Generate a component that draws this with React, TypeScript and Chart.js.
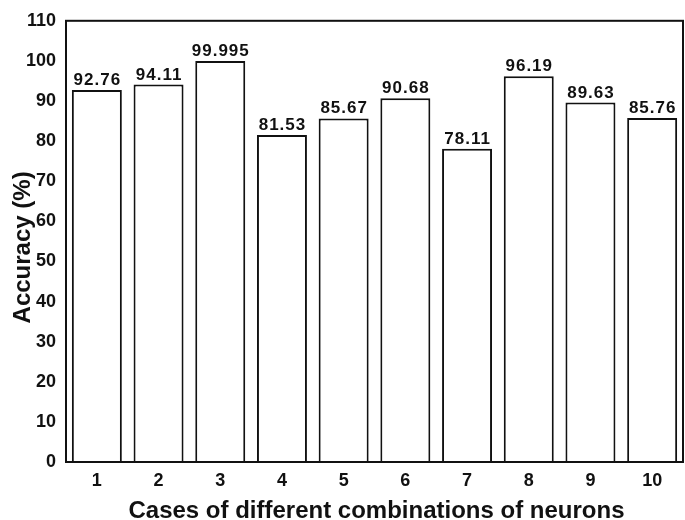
import React, { useEffect, useRef } from "react";
import { Chart, registerables } from "chart.js";

Chart.register(...registerables);

const categories = ["1", "2", "3", "4", "5", "6", "7", "8", "9", "10"];
const accuracy = [92.76, 94.11, 99.995, 81.53, 85.67, 90.68, 78.11, 96.19, 89.63, 85.76];
const valueLabels = ["92.76", "94.11", "99.995", "81.53", "85.67", "90.68", "78.11", "96.19", "89.63", "85.76"];
const xTitle = "Cases of different combinations of neurons";
const yTitle = "Accuracy (%)";

const FONT = '"Liberation Sans", Arial, Helvetica, sans-serif';

const decorPlugin = {
  id: "decor",
  afterDatasetsDraw(chart: any) {
    const { ctx, chartArea } = chart;
    ctx.save();
    // box
    ctx.strokeStyle = "#111";
    ctx.lineWidth = 2;
    ctx.strokeRect(chartArea.left, chartArea.top, chartArea.right - chartArea.left, chartArea.bottom - chartArea.top);
    // value labels
    const meta = chart.getDatasetMeta(0);
    ctx.fillStyle = "#111";
    ctx.font = `bold 17px ${FONT}`;
    ctx.textAlign = "center";
    ctx.textBaseline = "alphabetic";
    try { (ctx as any).letterSpacing = "1px"; } catch (e) {}
    meta.data.forEach((bar: any, i: number) => {
      ctx.fillText(valueLabels[i], bar.x + 0.5, bar.y - 5);
    });
    try { (ctx as any).letterSpacing = "0px"; } catch (e) {}
    // axis titles
    ctx.font = `bold 24px ${FONT}`;
    ctx.textBaseline = "alphabetic";
    ctx.fillText(xTitle, (chartArea.left + chartArea.right) / 2 + 2, 518);
    ctx.save();
    ctx.translate(30, (chartArea.top + chartArea.bottom) / 2 + 6);
    ctx.rotate(-Math.PI / 2);
    ctx.fillText(yTitle, 0, 0);
    ctx.restore();
    ctx.restore();
  },
};

export default function App() {
  const ref = useRef<HTMLCanvasElement>(null);
  useEffect(() => {
    document.body.style.margin = "0";
    const chart = new Chart(ref.current!, {
      type: "bar",
      data: {
        labels: categories,
        datasets: [
          {
            data: accuracy,
            backgroundColor: "#ffffff",
            borderColor: "#111111",
            borderWidth: 2,
            barPercentage: 0.81,
            categoryPercentage: 1,
          },
        ],
      },
      options: {
        responsive: false,
        animation: false,
        layout: { padding: { top: 10, right: 2, left: 0, bottom: 0 } },
        plugins: { legend: { display: false }, tooltip: { enabled: false } },
        scales: {
          x: {
            grid: { display: false, drawTicks: false },
            border: { display: false },
            ticks: { color: "#111", font: { family: FONT, size: 18, weight: "bold" }, padding: 8 },
            afterFit: (s: any) => { s.height = 58; },
          },
          y: {
            min: 0,
            max: 110,
            grid: { display: false, drawTicks: false },
            border: { display: false },
            ticks: { stepSize: 10, color: "#111", font: { family: FONT, size: 18, weight: "bold" }, padding: 10 },
            afterFit: (s: any) => { s.width = 66; },
          },
        },
      },
      plugins: [decorPlugin],
    });
    return () => chart.destroy();
  }, []);
  return (
    <div style={{ width: 685, height: 520 }}>
      <canvas ref={ref} width={685} height={520} />
    </div>
  );
}
